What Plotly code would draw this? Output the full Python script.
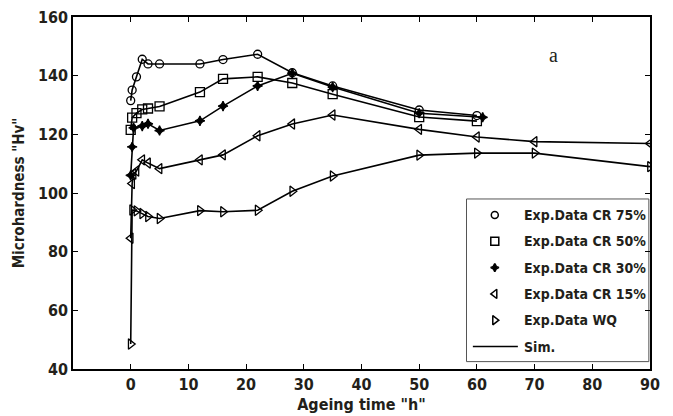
import plotly.graph_objects as go

# ---- data ----
x_cr75 = [0, 0.25, 1, 2, 3, 5, 12, 16, 22, 28, 35, 50, 60]
y_cr75 = [131.5, 135.1, 139.6, 145.6, 144.0, 144.0, 144.0, 145.5, 147.3, 141.0, 136.5, 128.3, 126.4]

x_cr50 = [0, 0.25, 1, 2, 3, 5, 12, 16, 22, 28, 35, 50, 60]
y_cr50 = [121.5, 125.7, 127.2, 128.5, 128.8, 129.5, 134.4, 138.9, 139.6, 137.5, 133.7, 125.9, 124.5]

x_cr30 = [0, 0.25, 0.5, 2, 3, 5, 12, 16, 22, 28, 35, 50, 61]
y_cr30 = [106.0, 115.7, 122.2, 122.8, 123.6, 121.3, 124.6, 129.6, 136.5, 140.8, 136.1, 127.2, 125.8]

x_cr15 = [0, 0.25, 0.5, 1, 2, 3, 5, 12, 16, 22, 28, 35, 50, 60, 70, 90]
y_cr15 = [84.6, 103.2, 106.5, 107.5, 111.3, 110.2, 108.3, 111.3, 113.0, 119.5, 123.5, 126.6, 121.7, 119.1, 117.5, 116.9]

x_wq = [0, 0.25, 1, 2, 3, 5, 12, 16, 22, 28, 35, 50, 60, 70, 90]
y_wq = [48.5, 94.2, 93.9, 93.0, 92.0, 91.3, 94.0, 93.6, 94.1, 100.6, 105.8, 112.9, 113.6, 113.6, 109.0]

series_names = ["Exp.Data CR 75%", "Exp.Data CR 50%", "Exp.Data CR 30%", "Exp.Data CR 15%", "Exp.Data WQ"]
sim_name = "Sim."
x_ticks = [0, 10, 20, 30, 40, 50, 60, 70, 80, 90]
y_ticks = [40, 60, 80, 100, 120, 140, 160]

xs = [x_cr75, x_cr50, x_cr30, x_cr15, x_wq]
ys = [y_cr75, y_cr50, y_cr30, y_cr15, y_wq]
symbols = ["circle-open", "square-open", "star-diamond", "triangle-left-open", "triangle-right-open"]
sizes = [8, 9, 7, 9, 9]

TXT = "#231f1a"
FONT = "DejaVu Sans Condensed, Liberation Sans Narrow, DejaVu Sans, Liberation Sans, sans-serif"

fig = go.Figure()

# simulation lines
for x, y in zip(xs, ys):
    fig.add_trace(go.Scatter(x=x, y=y, mode="lines",
                             line=dict(color="black", width=1.6),
                             name=sim_name, showlegend=False))

# experimental markers
for i, (x, y) in enumerate(zip(xs, ys)):
    fig.add_trace(go.Scatter(
        x=x, y=y, mode="markers", name=series_names[i], showlegend=False,
        marker=dict(symbol=symbols[i], size=sizes[i], color="black",
                    line=dict(color="black", width=1.3)),
    ))

# ---- hand-drawn legend box (overlay axes spanning the plot area, 0..1) ----
leg_x0, leg_x1, leg_y0, leg_y1 = 0.682, 0.998, 0.021, 0.483
row_y = [0.4375, 0.3628, 0.2881, 0.2134, 0.1386, 0.0639]
sym_x, txt_x = 0.731, 0.778

fig.add_shape(type="rect", xref="x2", yref="y2", x0=leg_x0, x1=leg_x1, y0=leg_y0, y1=leg_y1,
              line=dict(color="#555", width=1), fillcolor="white", layer="below")
for i in range(5):
    fig.add_trace(go.Scatter(
        x=[sym_x], y=[row_y[i]], xaxis="x2", yaxis="y2", mode="markers",
        showlegend=False, hoverinfo="skip",
        marker=dict(symbol=symbols[i], size=sizes[i] - 1, color="black",
                    line=dict(color="black", width=1.5)),
    ))
fig.add_trace(go.Scatter(
    x=[0.693, 0.771], y=[row_y[5], row_y[5]], xaxis="x2", yaxis="y2", mode="lines",
    showlegend=False, hoverinfo="skip", line=dict(color="black", width=1.6),
))
for i, name in enumerate(series_names + [sim_name]):
    fig.add_annotation(x=txt_x, y=row_y[i], xref="x2", yref="y2", text=name,
                       showarrow=False, xanchor="left", yanchor="middle",
                       font=dict(family=FONT, size=14, color=TXT, weight="bold"))

fig.add_annotation(x=73.3, y=147, text="a", showarrow=False,
                   font=dict(family="Liberation Serif", size=20, color=TXT))

axis_common = dict(
    showline=True, linecolor="black", linewidth=1.5, mirror="ticks",
    ticks="inside", ticklen=5, tickcolor="black", tickwidth=1,
    showgrid=False, zeroline=False, automargin=False, ticklabeloverflow="allow",
    tickfont=dict(family=FONT, size=16, color=TXT, weight="bold"),
)

# the page body adds an 8px offset, so the figure is 8px smaller and margins shifted
fig.update_layout(
    width=665, height=408,
    margin=dict(l=65, r=23, t=9, b=47),
    paper_bgcolor="white", plot_bgcolor="white",
    showlegend=False,
    xaxis=dict(range=[-10, 90], tickvals=x_ticks,
               title=dict(text='Ageing time "h"', standoff=6,
                          font=dict(family=FONT, size=16, color=TXT, weight="bold")),
               **axis_common),
    yaxis=dict(range=[40, 160], tickvals=y_ticks,
               title=dict(text='Microhardness "Hv"', standoff=10,
                          font=dict(family=FONT, size=15, color=TXT, weight="bold")),
               **axis_common),
    xaxis2=dict(range=[0, 1], overlaying="x", visible=False, fixedrange=True),
    yaxis2=dict(range=[0, 1], overlaying="y", visible=False, fixedrange=True),
)

fig.write_html("out.html")
